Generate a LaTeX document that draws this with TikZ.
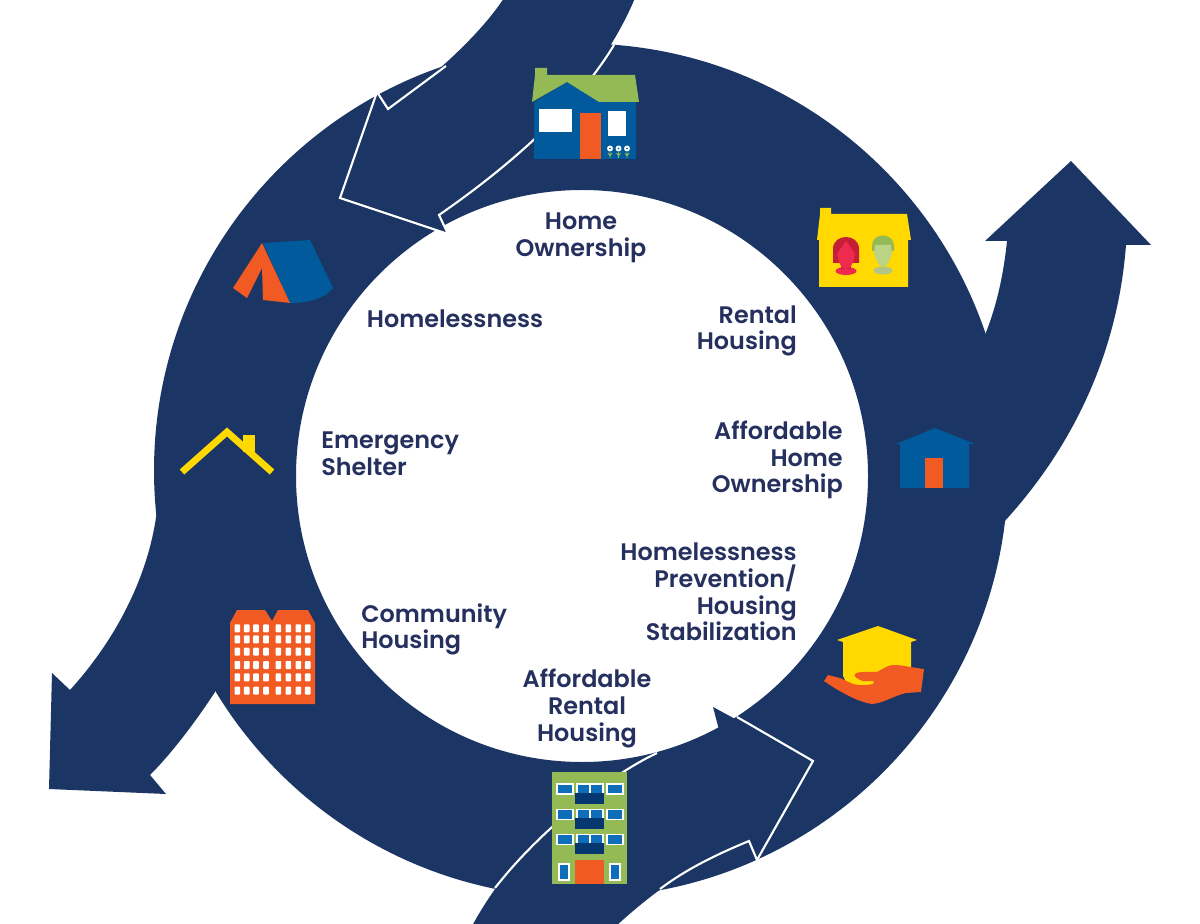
\documentclass[tikz,border=0pt]{standalone}
\usepackage{fontspec}
\setmainfont{Poppins SemiBold}
\definecolor{navy}{HTML}{1B3664}
\definecolor{txt}{HTML}{25305F}
\definecolor{hblue}{HTML}{005A9C}
\definecolor{wblue}{HTML}{0F6EB9}
\definecolor{dblue}{HTML}{06376F}
\definecolor{hgreen}{HTML}{93BA54}
\definecolor{lgreen}{HTML}{BBD384}
\definecolor{mgreen}{HTML}{B3C487}
\definecolor{horange}{HTML}{F15A22}
\definecolor{hyellow}{HTML}{FFD900}
\definecolor{hred}{HTML}{EE2A4E}
\definecolor{dred}{HTML}{C41F36}
\tikzset{
  band/.style={fill=navy,draw=none},
  edgeline/.style={draw=white,line width=1.5pt,line join=miter,miter limit=10},
  lbl/.style={text=txt,font=\fontsize{17}{18.9}\selectfont,inner sep=0pt},
  pane/.style={fill=wblue,draw=white,line width=0.8pt},
}
\begin{document}
\begin{tikzpicture}[x=0.025cm,y=-0.025cm]
\useasboundingbox (0,0) rectangle (1200,924);
\fill[white] (0,0) rectangle (1200,924);
% ring
\fill[band,even odd rule] (581,470.5) circle (427) (582,476) circle (286);
% top arrow
\fill[band] (635,-2) .. controls (605,70) and (540,145) .. (439,215) -- (448,234) -- (340,198) -- (377,92) -- (388,109) .. controls (430,80) and (480,35) .. (504,-2) -- cycle;
% bottom arrow
\fill[band] (472,926) .. controls (530,820) and (620,770) .. (719,730) -- (713,707) -- (813,761) -- (757,860) -- (749,841) .. controls (695,860) and (650,895) .. (616,926) -- cycle;
% right arrow
\fill[band] (1071,161) -- (1151,245) -- (1126,245) .. controls (1118,350) and (1075,445) .. (1003,523) -- (900,430) -- (985,335) .. controls (995,310) and (1003,280) .. (1007,241) -- (985,241) -- cycle;
% left arrow
\fill[band] (70,690) .. controls (120,635) and (150,570) .. (157,510) -- (250,550) -- (215,692) .. controls (200,715) and (175,750) .. (150,775) -- (166,794) -- (49,789) -- (52,673) -- cycle;
% white outlines
\draw[edgeline] (614,45) .. controls (590,85) and (540,145) .. (439,215) -- (448,234) -- (340,198) -- (377,92) -- (388,109) -- (446,66);
\draw[edgeline] (657,753) .. controls (610,775) and (540,830) .. (495,888);
\draw[edgeline] (737,717) -- (813,761) -- (757,860) -- (749,841) .. controls (715,855) and (685,870) .. (660,889);
% home ownership icon
\fill[hblue] (534,102) -- (567,82) -- (599,102) -- (636,102) -- (636,159) -- (534,159) -- cycle;
\fill[hgreen] (535,68) -- (547,68) -- (547,75) -- (635,75) -- (639,102) -- (599,102) -- (567,82) -- (532,102) -- (535,75) -- cycle;
\fill[white] (539,109) rectangle (572,132);
\fill[white] (608,111) rectangle (626,136);
\fill[horange] (580,113) rectangle (601,159);
\foreach \fx in {610,618.5,627}{
  \draw[hgreen,line width=0.6pt] (\fx,152) -- (\fx,158) (\fx-2,153) -- (\fx,156) -- (\fx+2,153);
  \fill[white] (\fx,148.5) circle (3);
  \fill[hblue] (\fx,148.5) circle (0.9);
}
% rental icon
\fill[hyellow] (820,208) -- (831,208) -- (831,214) -- (907,214) -- (911,240) -- (908,240) -- (908,287) -- (819,287) -- (819,240) -- (817,240) -- (820,214) -- cycle;
\fill[dred] (833,263) -- (833,249) .. controls (833,233) and (859,233) .. (859,249) -- (859,263) -- cycle;
\fill[hred] (846,271) ellipse (10.5 and 4);
\fill[dred] (841,262) rectangle (851,269);
\fill[hred] (846,241) -- (851,248) -- (855,254) -- (853,262) -- (850,268) -- (846,269) -- (842,268) -- (839,262) -- (837,254) -- (841,248) -- cycle;
\fill[hgreen] (872,251) -- (872,246) .. controls (872,232) and (894,232) .. (894,246) -- (894,251) -- cycle;
\fill[mgreen] (883,270.5) ellipse (9.5 and 4);
\fill[lgreen] (875,245) -- (891,245) -- (892,254) -- (889,261) -- (886,266) -- (880,266) -- (877,261) -- (874,254) -- cycle;
% affordable home ownership icon
\fill[hblue] (896,444) -- (935,428) -- (975,444) -- (969,444) -- (969,488) -- (900,488) -- (900,444) -- cycle;
\fill[horange] (925,458) rectangle (943,488);
% hand icon
\fill[hyellow] (837,640) -- (878,626) -- (917,640) -- (911,642) -- (911,678) -- (878,678) -- (874,686) -- (848,686) -- (843,676) -- (843,642) -- cycle;
\fill[horange] (924,669) -- (921,692) -- (906,693) .. controls (893,696) and (884,703) .. (872,704) .. controls (858,702) and (840,692) .. (824,681) -- (828,675) -- (840,678) -- (853,684) .. controls (860,686) and (868,685) .. (873,684) -- (874,681) -- (863,681) .. controls (857,679) and (853,676) .. (855,674) .. controls (858,671) and (870,672) .. (877,672) .. controls (883,669) and (888,665) .. (893,665) .. controls (903,665) and (914,668) .. (924,669) -- cycle;
% tent icon
\fill[hblue] (263,243) -- (310,240) -- (333,288) .. controls (325,298) and (310,303) .. (290,303) -- cycle;
\fill[horange] (262,243) -- (290,303) -- (263,300) -- (262,268) -- (247,298) -- (233,288) -- cycle;
% roof icon
\draw[hyellow,line width=4.8pt] (182,472) -- (227,432) -- (272,472);
\fill[hyellow] (243,435) rectangle (255,452);
% community housing icon
\fill[horange] (230,623) -- (237,610) -- (265,610) -- (272,621) -- (278,610) -- (308,610) -- (315,623) -- (315,704) -- (230,704) -- cycle;
\foreach \wy in {628.3,639.3,651.7,665,677.3,690.7}{
  \foreach \wx in {237.3,246.7,256,266,278.3,288.3,298.3,307.7}{
    \fill[white,rounded corners=0.6pt] (\wx-2.8,\wy-4) rectangle (\wx+2.8,\wy+4);
  }
}
% affordable rental icon
\fill[hgreen] (552,772) rectangle (627,884);
\foreach \ry in {0,25.2,50.4}{
  \filldraw[pane] (557,784+\ry) rectangle (573,794+\ry);
  \filldraw[pane] (577,784+\ry) rectangle (590,794+\ry);
  \filldraw[pane] (590,784+\ry) rectangle (603,794+\ry);
  \filldraw[pane] (607,784+\ry) rectangle (623,794+\ry);
  \fill[dblue] (575,793+\ry) rectangle (604,804+\ry);
}
\filldraw[pane] (559,864) rectangle (569,880);
\filldraw[pane] (610,864) rectangle (620,880);
\fill[horange] (575,860) rectangle (604,884);
% labels
\node[lbl,align=center] (homeown) at (581,238) {Home\\Ownership};
\node[lbl,align=center] (homeless) at (455,319) {Homelessness};
\node[lbl,align=right,anchor=east] (rental) at (797,331) {Rental\\Housing};
\node[lbl,align=right,anchor=east] (affown) at (843,460) {Affordable\\Home\\Ownership};
\node[lbl,align=right,anchor=east] (prevent) at (797,592) {Homelessness\\Prevention/\\Housing\\Stabilization};
\node[lbl,align=left,anchor=west] (emerg) at (321,454) {Emergency\\Shelter};
\node[lbl,align=left,anchor=west] (comm) at (361,629.5) {Community\\Housing};
\node[lbl,align=center] (affrent) at (587,708.5) {Affordable\\Rental\\Housing};
\end{tikzpicture}
\end{document}
